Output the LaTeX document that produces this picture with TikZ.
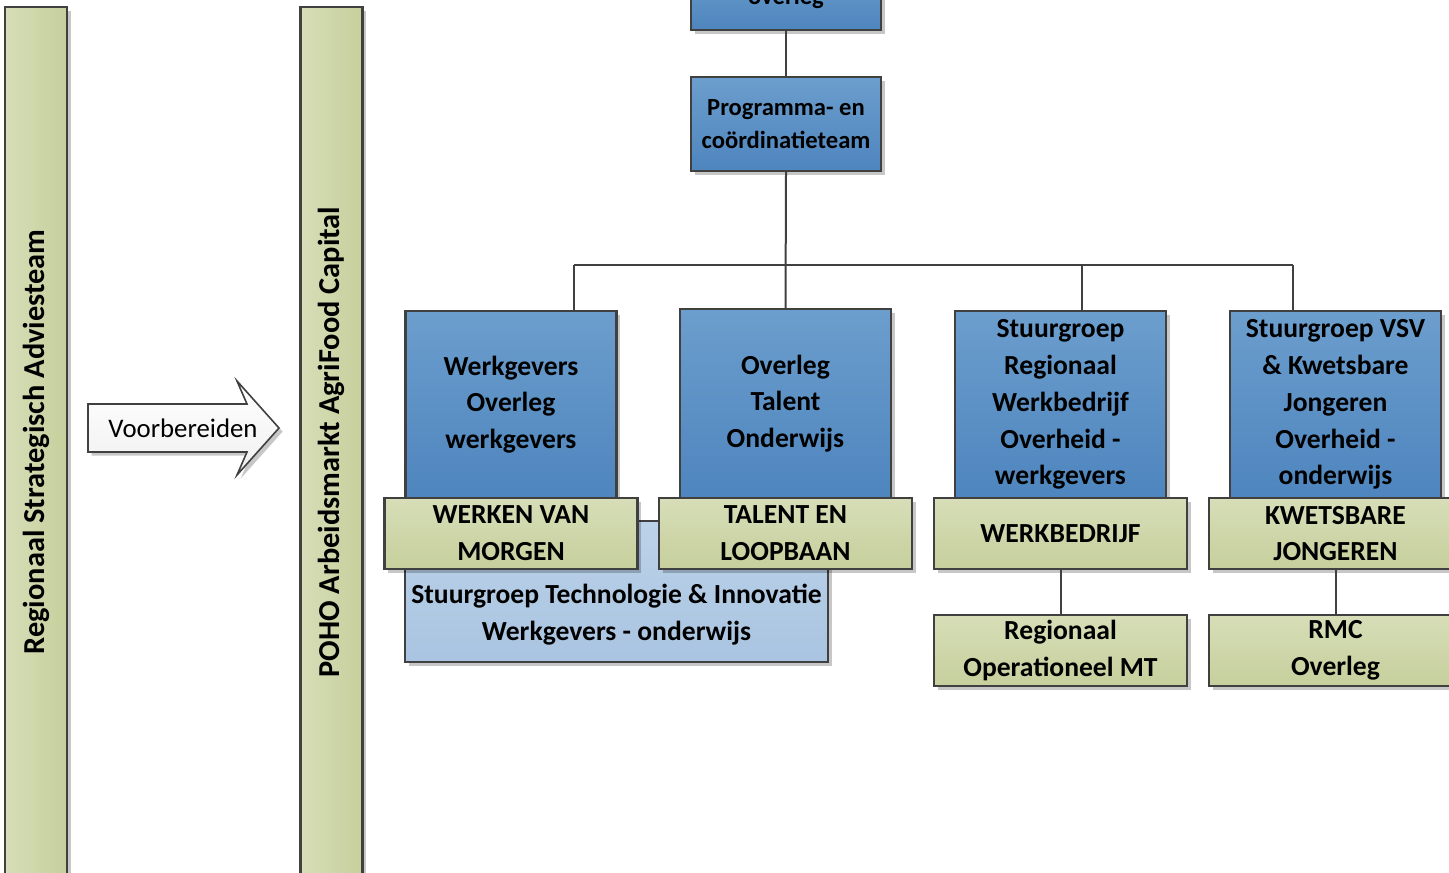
\documentclass[tikz,border=0pt]{standalone}
\usepackage{fontspec}
\setmainfont{Carlito}
\usetikzlibrary{shadows}
\definecolor{rand}{HTML}{404040}
\definecolor{blauwboven}{HTML}{6C9ECD}
\definecolor{blauwonder}{HTML}{4E85BE}
\definecolor{groenlicht}{HTML}{D7DEB8}
\definecolor{groendonker}{HTML}{C6CF9C}
\definecolor{lichtblauwboven}{HTML}{BCD2E8}
\definecolor{lichtblauwonder}{HTML}{A9C4E1}
\newcommand{\groottekst}{\fontsize{13.8}{18.4}\selectfont\bfseries}
\newcommand{\kleintekst}{\fontsize{12.3}{16.5}\selectfont\bfseries}
\newcommand{\balktekst}{\fontsize{15.2}{18}\selectfont\bfseries}
\tikzset{
	schaduw/.style={drop shadow={shadow xshift=1.8pt, shadow yshift=-1.8pt, opacity=.22, fill=black}},
	blauwvak/.style={draw=rand, line width=1.2pt, top color=blauwboven, bottom color=blauwonder, schaduw,
		minimum width=105.5pt, minimum height=93.5pt, inner sep=1pt, align=center, font=\groottekst},
	groenvak/.style={draw=rand, line width=1.2pt, top color=groenlicht, bottom color=groendonker, schaduw,
		minimum width=126.5pt, minimum height=35.5pt, inner sep=1pt, align=center, font=\groottekst},
	balk/.style={draw=rand, line width=1.4pt, left color=groenlicht, right color=groendonker, schaduw,
		minimum width=31pt, minimum height=435pt, inner sep=0pt},
	lijn/.style={draw=rand, line width=1pt}
}

\begin{document}
\begin{tikzpicture}[x=0.5pt, y=-0.5pt]

	\useasboundingbox (0,0) rectangle (1449,872);

	% linker balken
	\node[balk] (rsa) at (36,442) {};
	\node[rotate=90, font=\balktekst] (rsatekst) at (rsa) {Regionaal Strategisch Adviesteam};
	\node[balk] (poho) at (331.5,442) {};
	\node[rotate=90, font=\balktekst] (pohotekst) at (poho) {POHO Arbeidsmarkt AgriFood Capital};

	% pijl
	\path[draw=rand, line width=0.8pt, top color=white, bottom color=gray!12, schaduw]
		(88,404) -- (247,404) -- (237,381) -- (279,428) -- (237,475) -- (247,452) -- (88,452) -- cycle;
	\node[font=\fontsize{13.4}{16}\selectfont] (voorb) at (183,428) {Voorbereiden};

	% bovenste lagen
	\node[blauwvak, minimum width=95pt, minimum height=32pt, font=\kleintekst] (overleg) at (786,-2) {overleg};
	\node[blauwvak, minimum width=95pt, minimum height=47pt, font=\kleintekst] (pct) at (786,124) {Programma- en\\coördinatieteam};

	% pijlers
	\node[blauwvak] (wg) at (511,404.5) {Werkgevers\\Overleg\\werkgevers};
	\node[blauwvak, minimum height=94.5pt] (tb) at (785.5,403.5) {Overleg\\Talent\\Onderwijs};
	\node[blauwvak] (rw) at (1060.5,404.5) {Stuurgroep\\Regionaal\\Werkbedrijf\\Overheid -\\werkgevers};
	\node[blauwvak] (vsv) at (1335.5,404.5) {Stuurgroep VSV\\\& Kwetsbare\\Jongeren\\Overheid -\\onderwijs};

	\node[draw=rand, line width=1.2pt, top color=lichtblauwboven, bottom color=lichtblauwonder, schaduw,
		minimum width=211.5pt, minimum height=70.5pt] (sti) at (616.5,591.5) {};
	\node[align=center, font=\groottekst] (stitekst) at (616.5,614.5) {Stuurgroep Technologie \& Innovatie\\Werkgevers - onderwijs};

	\node[groenvak] (wvm) at (511,533.5) {WERKEN VAN\\MORGEN};
	\node[groenvak] (tel) at (785.5,533.5) {TALENT EN\\LOOPBAAN};
	\node[groenvak] (wbd) at (1060.5,533.5) {WERKBEDRIJF};
	\node[groenvak] (kj) at (1335.5,533.5) {KWETSBARE\\JONGEREN};

	\node[groenvak] (rom) at (1060.5,650.5) {Regionaal\\Operationeel MT};
	\node[groenvak] (rmc) at (1335.5,650.5) {RMC\\Overleg};

	% verbindingen
	\coordinate (b1) at (574,265);
	\coordinate (b3) at (1082,265);
	\coordinate (b4) at (1293,265);
	\draw[lijn] (overleg.south) -- (pct.north);
	\draw[lijn] (pct.south) -- (tb.north);
	\draw[lijn] (b1) -- (b4);
	\draw[lijn] (b1) -- (b1 |- wg.north);
	\draw[lijn] (b3) -- (b3 |- rw.north);
	\draw[lijn] (b4) -- (b4 |- vsv.north);
	\draw[lijn] (wbd.south) -- (rom.north);
	\draw[lijn] (kj.south) -- (rmc.north);

\end{tikzpicture}
\end{document}
